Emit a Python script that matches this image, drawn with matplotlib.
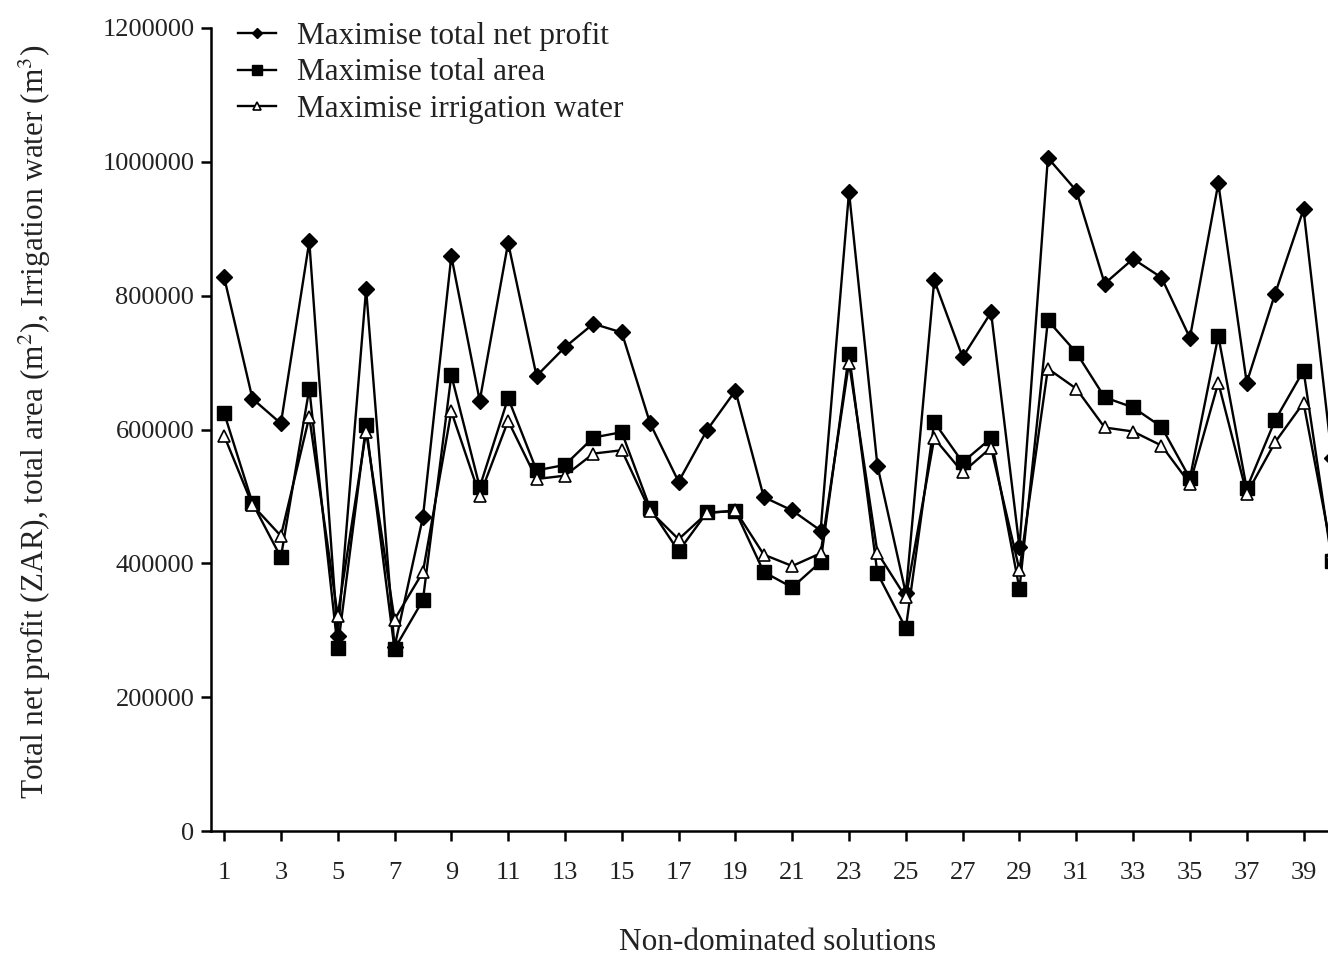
import matplotlib
matplotlib.use("Agg")
import matplotlib.pyplot as plt
import numpy as np

# Non-dominated solutions and the three objective values for each
solutions = list(range(1, 41))

net_profit = [828000, 646000, 609000, 881000, 292000, 810000, 275000, 469000, 859000, 643000,
              879000, 680000, 723000, 758000, 745000, 609000, 522000, 599000, 658000, 499000,
              479000, 449000, 955000, 546000, 355000, 823000, 708000, 775000, 424000, 1006000,
              957000, 818000, 855000, 827000, 737000, 968000, 670000, 803000, 929000, 558000]

total_area = [625000, 490000, 409000, 661000, 273000, 606000, 272000, 345000, 681000, 514000,
              647000, 539000, 547000, 588000, 596000, 482000, 418000, 476000, 478000, 387000,
              364000, 402000, 713000, 385000, 303000, 611000, 551000, 587000, 362000, 763000,
              715000, 648000, 633000, 604000, 527000, 740000, 512000, 614000, 688000, 403000]

irrigation_water = [591000, 487000, 441000, 619000, 322000, 597000, 316000, 387000, 627000, 501000,
                    613000, 526000, 531000, 564000, 569000, 478000, 436000, 475000, 479000, 413000,
                    396000, 415000, 700000, 416000, 349000, 587000, 536000, 573000, 390000, 691000,
                    661000, 603000, 597000, 576000, 519000, 670000, 504000, 581000, 640000, 416000]

series_labels = ["Maximise total net profit", "Maximise total area", "Maximise irrigation water"]
x_ticks = list(range(1, 40, 2))
y_ticks = [0, 200000, 400000, 600000, 800000, 1000000, 1200000]

plt.rcParams["font.family"] = ["Liberation Serif", "DejaVu Serif"]
plt.rcParams["mathtext.fontset"] = "stix"

W, H = 1328, 957
fig = plt.figure(figsize=(W / 100, H / 100), dpi=100)
ax_left, ax_right, ax_top, ax_bottom = 211, 1345, 28, 831
ax = fig.add_axes([ax_left / W, 1 - ax_bottom / H,
                   (ax_right - ax_left) / W, (ax_bottom - ax_top) / H])

ax.plot(solutions, net_profit, color="black", lw=1.7, marker="D", ms=8,
        mfc="black", mec="black", label=series_labels[0], zorder=3)
ax.plot(solutions, total_area, color="black", lw=1.7, marker="s", ms=9.5,
        mfc="black", mec="black", label=series_labels[1], zorder=4)
ax.plot(solutions, irrigation_water, color="black", lw=1.7, marker="^", ms=8,
        mfc="white", mec="black", mew=1.2, label=series_labels[2], zorder=5)

ax.set_xlim(0.54, 40.46)
ax.set_ylim(0, 1200000)
ax.set_xticks(x_ticks)
ax.set_xticklabels([str(t) for t in x_ticks])
ax.set_yticks(y_ticks)
ax.set_yticklabels([str(t) for t in y_ticks])

for side in ("top", "right"):
    ax.spines[side].set_visible(False)
for side in ("left", "bottom"):
    ax.spines[side].set_linewidth(1.8)
    ax.spines[side].set_color("black")

ax.tick_params(axis="both", which="major", labelsize=19, width=1.8, length=7,
               color="black", labelcolor="#222222")
ax.tick_params(axis="x", pad=15)
ax.tick_params(axis="y", pad=5)

ax.set_xlabel("Non-dominated solutions", fontsize=22.5, color="#222222")
ax.xaxis.set_label_coords(0.5, -0.121)
ax.set_ylabel("Total net profit (ZAR), total area (m$^2$), Irrigation water (m$^3$)",
              fontsize=22.5, color="#222222")
ax.yaxis.set_label_coords(-0.139, 0.509)

leg = ax.legend(loc="upper left", bbox_to_anchor=(222 / W, 1 - 6 / H),
                bbox_transform=fig.transFigure, frameon=False, fontsize=22.5,
                handlelength=1.22, handletextpad=0.68, labelspacing=0.25,
                borderpad=0, markerscale=0.7)
for t in leg.get_texts():
    t.set_color("#222222")

fig.savefig("out.png", dpi=100)
